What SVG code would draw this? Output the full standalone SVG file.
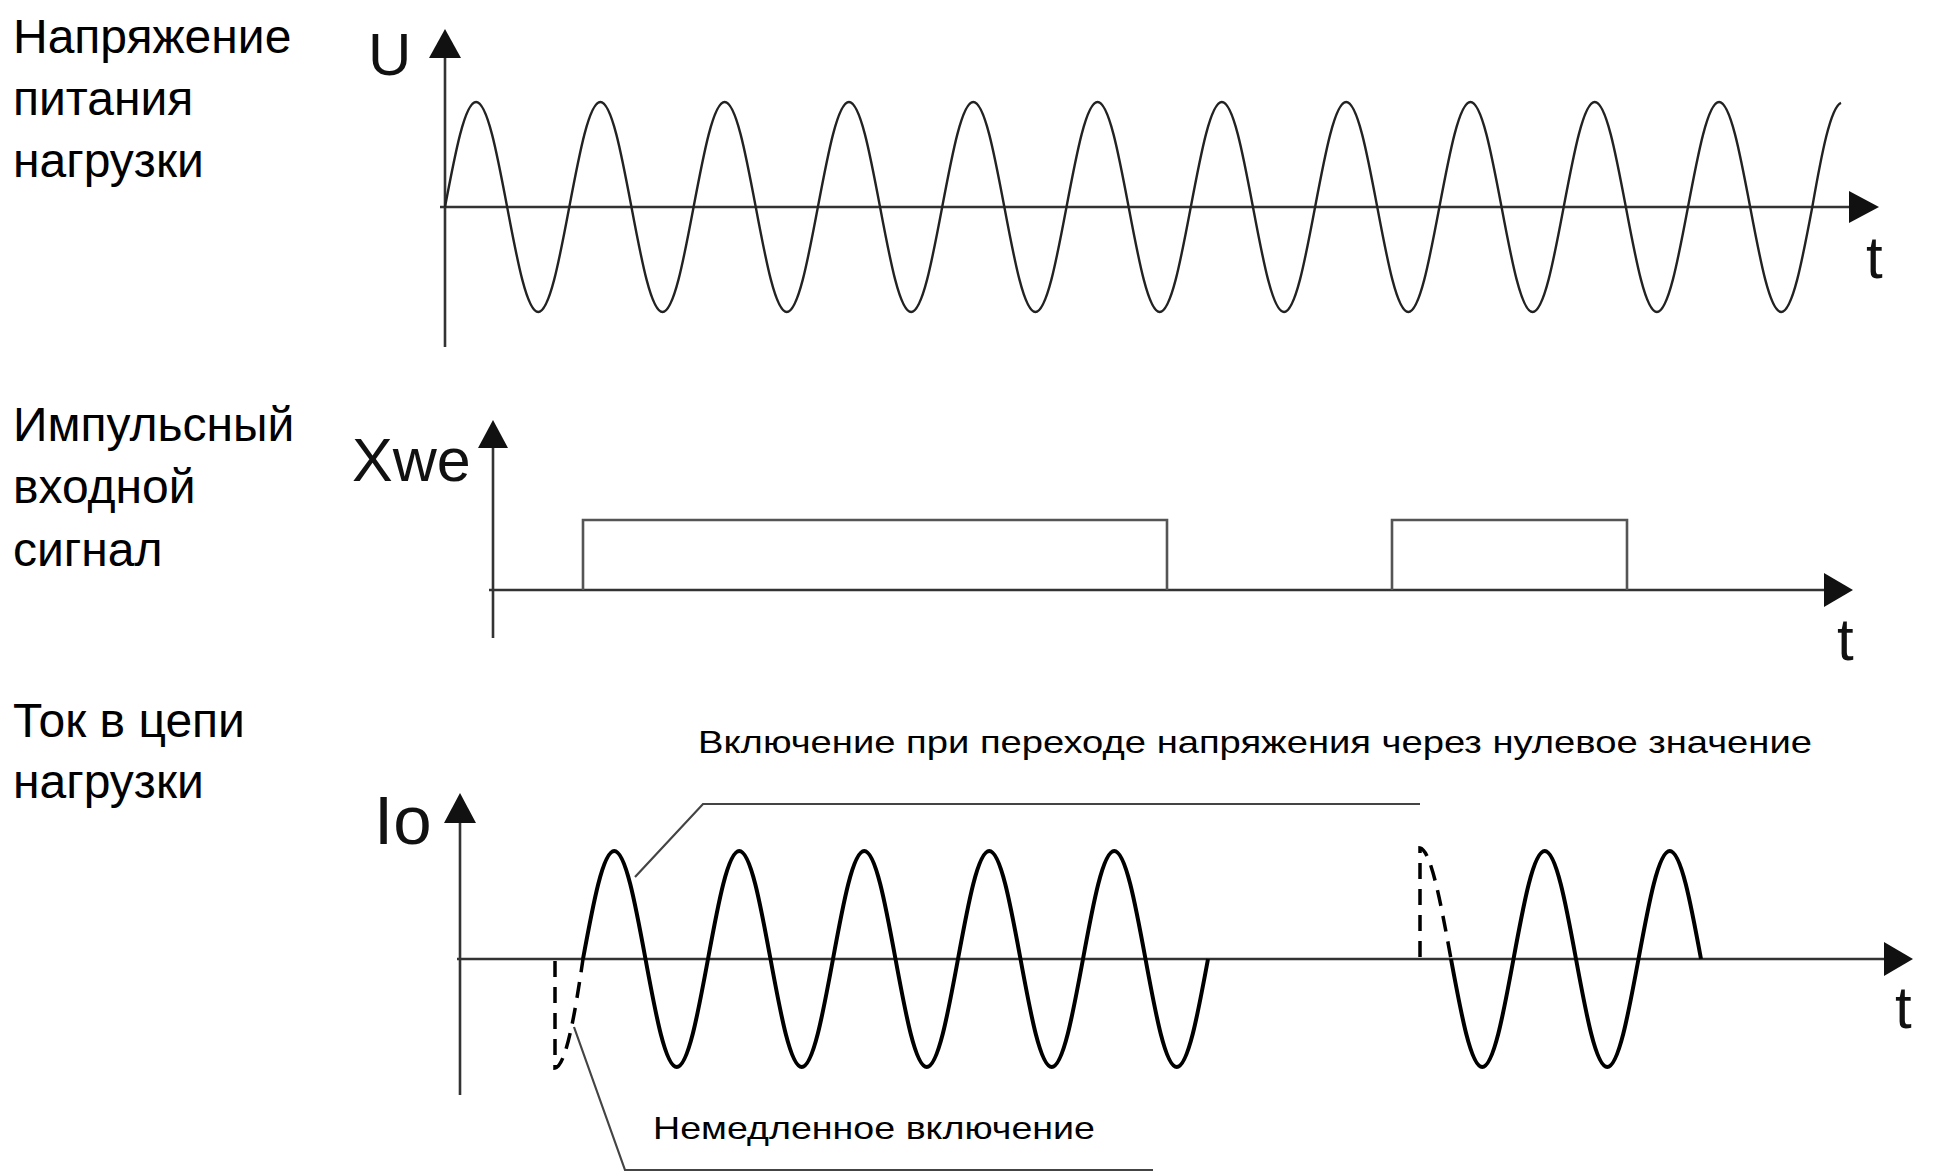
<svg xmlns="http://www.w3.org/2000/svg" width="1933" height="1173" viewBox="0 0 1933 1173">
<defs>
<style>
.lbl{font-family:"Liberation Sans",Arial,sans-serif;font-size:48px;fill:#000}
.ax{font-family:"Liberation Sans",Arial,sans-serif;fill:#111}
.note{font-family:"Liberation Sans",Arial,sans-serif;font-size:32px;fill:#000}
.axis{stroke:#333;stroke-width:2.6;fill:none}
.wave{stroke:#222;stroke-width:2.4;fill:none}
.cur{stroke:#000;stroke-width:4;fill:none;stroke-linejoin:round}
.dash{stroke:#000;stroke-width:3.5;fill:none;stroke-dasharray:16 10}
.pulse{stroke:#555;stroke-width:2.6;fill:none}
.lead{stroke:#444;stroke-width:2.2;fill:none}
.head{fill:#111}
</style>
</defs>
<rect width="1933" height="1173" fill="#fff"/>

<g id="panel-supply">
<text class="lbl" x="13" y="53">Напряжение</text>
<text class="lbl" x="13" y="115">питания</text>
<text class="lbl" x="13" y="177">нагрузки</text>
<line class="axis" x1="445" y1="50" x2="445" y2="347"/>
<polygon class="head" points="445,29 429,58 461,58"/>
<line class="axis" x1="440" y1="207" x2="1855" y2="207"/>
<polygon class="head" points="1879,207 1849,191 1849,223"/>
<text class="ax" x="368" y="75" font-size="60">U</text>
<text class="ax" x="1866" y="278" font-size="60">t</text>
<path class="wave" d="M445,207
c10.13,-53.79 19.83,-105 31.075,-105 c11.25,0 20.94,51.21 31.075,105 c10.13,53.79 19.83,105 31.075,105 c11.25,0 20.94,-51.21 31.075,-105
c10.13,-53.79 19.83,-105 31.075,-105 c11.25,0 20.94,51.21 31.075,105 c10.13,53.79 19.83,105 31.075,105 c11.25,0 20.94,-51.21 31.075,-105
c10.13,-53.79 19.83,-105 31.075,-105 c11.25,0 20.94,51.21 31.075,105 c10.13,53.79 19.83,105 31.075,105 c11.25,0 20.94,-51.21 31.075,-105
c10.13,-53.79 19.83,-105 31.075,-105 c11.25,0 20.94,51.21 31.075,105 c10.13,53.79 19.83,105 31.075,105 c11.25,0 20.94,-51.21 31.075,-105
c10.13,-53.79 19.83,-105 31.075,-105 c11.25,0 20.94,51.21 31.075,105 c10.13,53.79 19.83,105 31.075,105 c11.25,0 20.94,-51.21 31.075,-105
c10.13,-53.79 19.83,-105 31.075,-105 c11.25,0 20.94,51.21 31.075,105 c10.13,53.79 19.83,105 31.075,105 c11.25,0 20.94,-51.21 31.075,-105
c10.13,-53.79 19.83,-105 31.075,-105 c11.25,0 20.94,51.21 31.075,105 c10.13,53.79 19.83,105 31.075,105 c11.25,0 20.94,-51.21 31.075,-105
c10.13,-53.79 19.83,-105 31.075,-105 c11.25,0 20.94,51.21 31.075,105 c10.13,53.79 19.83,105 31.075,105 c11.25,0 20.94,-51.21 31.075,-105
c10.13,-53.79 19.83,-105 31.075,-105 c11.25,0 20.94,51.21 31.075,105 c10.13,53.79 19.83,105 31.075,105 c11.25,0 20.94,-51.21 31.075,-105
c10.13,-53.79 19.83,-105 31.075,-105 c11.25,0 20.94,51.21 31.075,105 c10.13,53.79 19.83,105 31.075,105 c11.25,0 20.94,-51.21 31.075,-105
c10.13,-53.79 19.83,-105 31.075,-105 c11.25,0 20.94,51.21 31.075,105 c10.13,53.79 19.83,105 31.075,105 c11.25,0 20.94,-51.21 31.075,-105
c9.4,-53.8 18.3,-100 28.7,-104.2"/>
</g>

<g id="panel-input">
<text class="lbl" x="13" y="441">Импульсный</text>
<text class="lbl" x="13" y="503">входной</text>
<text class="lbl" x="13" y="566">сигнал</text>
<line class="axis" x1="493" y1="440" x2="493" y2="638"/>
<polygon class="head" points="493,420 478,448 508,448"/>
<line class="axis" x1="489" y1="590" x2="1830" y2="590"/>
<polygon class="head" points="1853,590 1824,573 1824,607"/>
<text class="ax" x="352" y="481" font-size="61">Xwe</text>
<text class="ax" x="1837" y="660" font-size="60">t</text>
<path class="pulse" d="M583,590 V520 H1167 V590"/>
<path class="pulse" d="M1392,590 V520 H1627 V590"/>
</g>

<g id="panel-current">
<text class="lbl" x="13" y="737">Ток в цепи</text>
<text class="lbl" x="13" y="798">нагрузки</text>
<line class="axis" x1="460" y1="815" x2="460" y2="1095"/>
<polygon class="head" points="460,793 444,823 476,823"/>
<line class="axis" x1="457" y1="959" x2="1890" y2="959"/>
<polygon class="head" points="1913,959 1884,942 1884,976"/>
<text class="ax" x="374" y="844" font-size="69">Io</text>
<text class="ax" x="1895" y="1028" font-size="60">t</text>
<path class="cur" d="M583,959
c10.19,-55.33 19.94,-108 31.25,-108 c11.31,0 21.06,52.67 31.25,108 c10.19,55.33 19.94,108 31.25,108 c11.31,0 21.06,-52.67 31.25,-108
c10.19,-55.33 19.94,-108 31.25,-108 c11.31,0 21.06,52.67 31.25,108 c10.19,55.33 19.94,108 31.25,108 c11.31,0 21.06,-52.67 31.25,-108
c10.19,-55.33 19.94,-108 31.25,-108 c11.31,0 21.06,52.67 31.25,108 c10.19,55.33 19.94,108 31.25,108 c11.31,0 21.06,-52.67 31.25,-108
c10.19,-55.33 19.94,-108 31.25,-108 c11.31,0 21.06,52.67 31.25,108 c10.19,55.33 19.94,108 31.25,108 c11.31,0 21.06,-52.67 31.25,-108
c10.19,-55.33 19.94,-108 31.25,-108 c11.31,0 21.06,52.67 31.25,108 c10.19,55.33 19.94,108 31.25,108 c11.31,0 21.06,-52.67 31.25,-108"/>
<path class="dash" d="M555,961 V1068 C566,1066 575,1014 583,959"/>
<path class="cur" d="M1451,959
c10.19,55.33 19.94,108 31.25,108 c11.31,0 21.06,-52.67 31.25,-108 c10.19,-55.33 19.94,-108 31.25,-108 c11.31,0 21.06,52.67 31.25,108
c10.19,55.33 19.94,108 31.25,108 c11.31,0 21.06,-52.67 31.25,-108 c10.19,-55.33 19.94,-108 31.25,-108 c11.31,0 21.06,52.67 31.25,108"/>
<path class="dash" d="M1420,957 V848 C1431,850 1441,904 1451,959"/>
</g>

<g id="note-zero-cross">
<text class="note" x="698" y="753" textLength="1114" lengthAdjust="spacingAndGlyphs">Включение при переходе напряжения через нулевое значение</text>
</g>
<g id="note-immediate">
<text class="note" x="653" y="1139" textLength="442" lengthAdjust="spacingAndGlyphs">Немедленное включение</text>
</g>

<g id="connectors">
<path class="lead" d="M635,877 L703,804 H1420"/>
<path class="lead" d="M574,1027 L625,1170 H1153"/>
</g>
</svg>
